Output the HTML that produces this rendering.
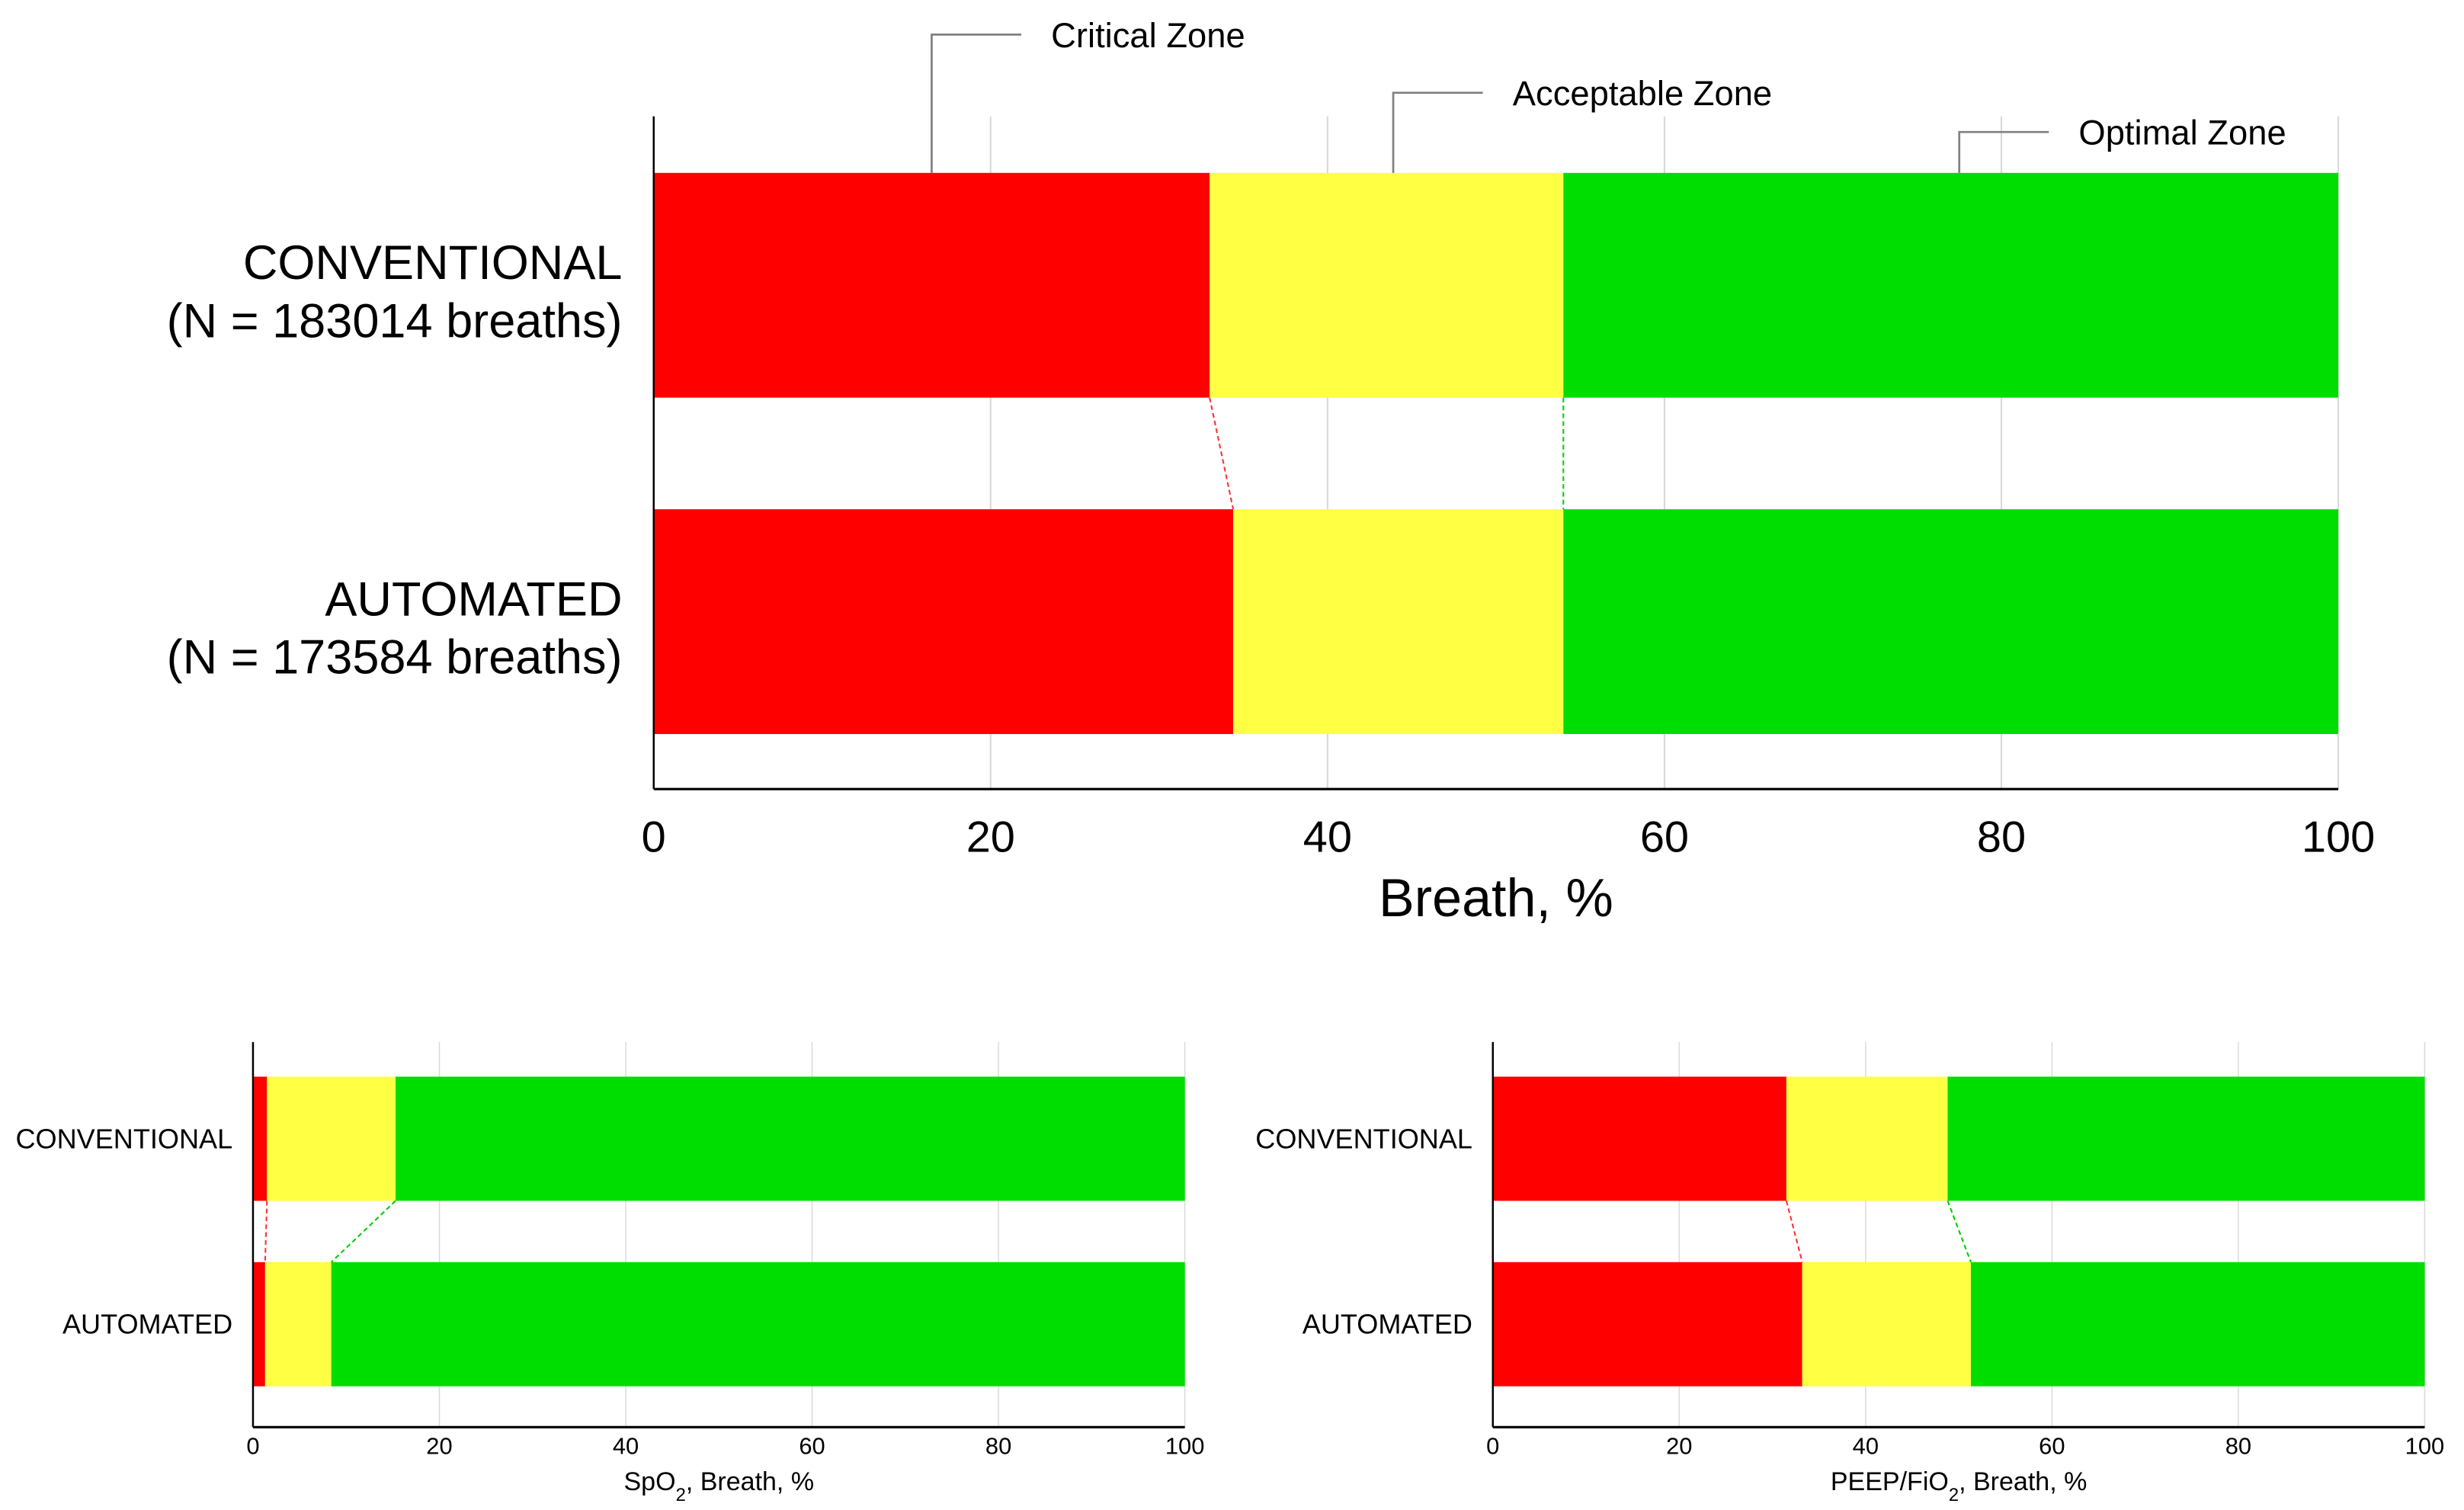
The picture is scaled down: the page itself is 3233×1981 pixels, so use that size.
<!DOCTYPE html>
<html><head><meta charset="utf-8"><style>
html,body{margin:0;padding:0;background:#fff;}
svg{display:block;font-family:"Liberation Sans",Arial,sans-serif;}
</style></head><body>
<svg id="chart" width="3233" height="1981" viewBox="0 0 1568 960.7" preserveAspectRatio="none" xmlns="http://www.w3.org/2000/svg"></svg>
<script>
const categories = ["CONVENTIONAL", "AUTOMATED"];
const mainSubLabels = ["(N = 183014 breaths)", "(N = 173584 breaths)"];
const mainCritical = [33.0, 34.4];
const mainAcceptable = [21.0, 19.6];
const spo2Critical = [1.5, 1.3];
const spo2Acceptable = [13.8, 7.1];
const peepCritical = [31.5, 33.2];
const peepAcceptable = [17.3, 18.1];
const tickValues = [0, 20, 40, 60, 80, 100];
const zoneNames = ["Critical Zone", "Acceptable Zone", "Optimal Zone"];

const svg = document.getElementById('chart');
const NS = 'http://www.w3.org/2000/svg';
function mk(tag, attrs, parent) {
  const e = document.createElementNS(NS, tag);
  for (const k in attrs) e.setAttribute(k, attrs[k]);
  (parent || svg).appendChild(e);
  return e;
}

function drawPanel(p) {
  const g = mk('g', {});
  
  
  const sx = v => p.x0 + (p.x1 - p.x0) * v / 100;
  tickValues.forEach(t => {
    if (t === 0) return;
    const l = mk('line', {x1: sx(t), x2: sx(t), y1: p.top, y2: p.bottom, stroke: '#d9d9d9', 'stroke-width': p.grid}, g);
    
    
  });
  const segs = [];
  categories.forEach((c, i) => {
    const y = p.barY[i];
    const a = p.crit[i], b = p.crit[i] + p.acc[i];
    const r1 = mk('rect', {x: sx(0), y: y, width: sx(a) - sx(0), height: p.barH, fill: '#ff0000'}, g);
    
    
    const r2 = mk('rect', {x: sx(a), y: y, width: sx(b) - sx(a), height: p.barH, fill: '#ffff44'}, g);
    
    
    const r3 = mk('rect', {x: sx(b), y: y, width: sx(100) - sx(b), height: p.barH, fill: '#00dd00'}, g);
    
    
    segs.push([a, b]);
    if (p.sub) {
      const t1 = mk('text', {x: p.labelX, y: y + p.barH / 2 - 4, 'text-anchor': 'end', 'font-size': p.labelSize, fill: '#000'}, g);
      t1.textContent = c;
      
      
      const t2 = mk('text', {x: p.labelX, y: y + p.barH / 2 + 33, 'text-anchor': 'end', 'font-size': p.labelSize, fill: '#000'}, g);
      t2.textContent = p.sub[i];
      
      
    } else {
      const t1 = mk('text', {x: p.labelX, y: y + p.barH / 2 + 6, 'text-anchor': 'end', 'font-size': p.labelSize, fill: '#000'}, g);
      t1.textContent = c;
      
      
    }
  });
  const yA = p.barY[0] + p.barH, yB = p.barY[1];
  const c1 = mk('line', {x1: sx(segs[0][0]), y1: yA, x2: sx(segs[1][0]), y2: yB, stroke: '#ff3030', 'stroke-width': 1, 'stroke-dasharray': '3,2'}, g);
  
  
  const c2 = mk('line', {x1: sx(segs[0][1]), y1: yA, x2: sx(segs[1][1]), y2: yB, stroke: '#00cc00', 'stroke-width': 1, 'stroke-dasharray': '3,2'}, g);
  
  
  const ya = mk('line', {x1: sx(0), x2: sx(0), y1: p.top, y2: p.bottom, stroke: '#000', 'stroke-width': 1.2}, g);
  
  
  const xa = mk('line', {x1: sx(0), x2: sx(100), y1: p.bottom, y2: p.bottom, stroke: '#000', 'stroke-width': p.axisW}, g);
  
  
  tickValues.forEach(t => {
    const tl = mk('text', {x: sx(t), y: p.tickY, 'text-anchor': 'middle', 'font-size': p.tickSize, fill: '#000'}, g);
    tl.textContent = t;
    
    
  });
  const title = mk('text', {x: (sx(0) + sx(100)) / 2, y: p.titleY, 'text-anchor': 'middle', 'font-size': p.titleSize, fill: '#000'}, g);
  
  
  if (p.titleParts) {
    p.titleParts.forEach(part => {
      const ts = mk('tspan', part.sub ? {'baseline-shift': 'sub', 'font-size': p.titleSize * 0.7} : {}, title);
      ts.textContent = part.t;
    });
  } else title.textContent = p.title;
  return {g, sx};
}

const main = drawPanel({name: 'main-chart', x0: 416, x1: 1488, top: 74, bottom: 502, barY: [110, 324], barH: 143,
  crit: mainCritical, acc: mainAcceptable, sub: mainSubLabels, labelX: 396, labelSize: 30.6,
  grid: 1, axisW: 1.5, tickY: 542, tickSize: 28, titleY: 583, titleSize: 34, title: 'Breath, %'});

const annX = [16.5, 43.9, 77.5];
const annY = [22, 59, 84];
zoneNames.forEach((z, i) => {
  const x = main.sx(annX[i]);
  const pl = mk('polyline', {points: `${x},110 ${x},${annY[i]} ${x + 57},${annY[i]}`, fill: 'none', stroke: '#808080', 'stroke-width': 1.3});
  
  
  const t = mk('text', {x: x + 76, y: annY[i] + 8, 'font-size': 22, fill: '#000'});
  t.textContent = z;
  
  
});

drawPanel({name: 'spo2-chart', x0: 161, x1: 754, top: 663, bottom: 908, barY: [685, 803], barH: 79,
  crit: spo2Critical, acc: spo2Acceptable, labelX: 148, labelSize: 17.5,
  grid: 0.7, axisW: 1.5, tickY: 925, tickSize: 15, titleY: 948, titleSize: 16.5,
  titleParts: [{t: 'SpO'}, {t: '2', sub: true}, {t: ', Breath, %'}]});

drawPanel({name: 'peep-fio2-chart', x0: 950, x1: 1543, top: 663, bottom: 908, barY: [685, 803], barH: 79,
  crit: peepCritical, acc: peepAcceptable, labelX: 937, labelSize: 17.5,
  grid: 0.7, axisW: 1.5, tickY: 925, tickSize: 15, titleY: 948, titleSize: 16.5,
  titleParts: [{t: 'PEEP/FiO'}, {t: '2', sub: true}, {t: ', Breath, %'}]});
</script>
</body></html>
